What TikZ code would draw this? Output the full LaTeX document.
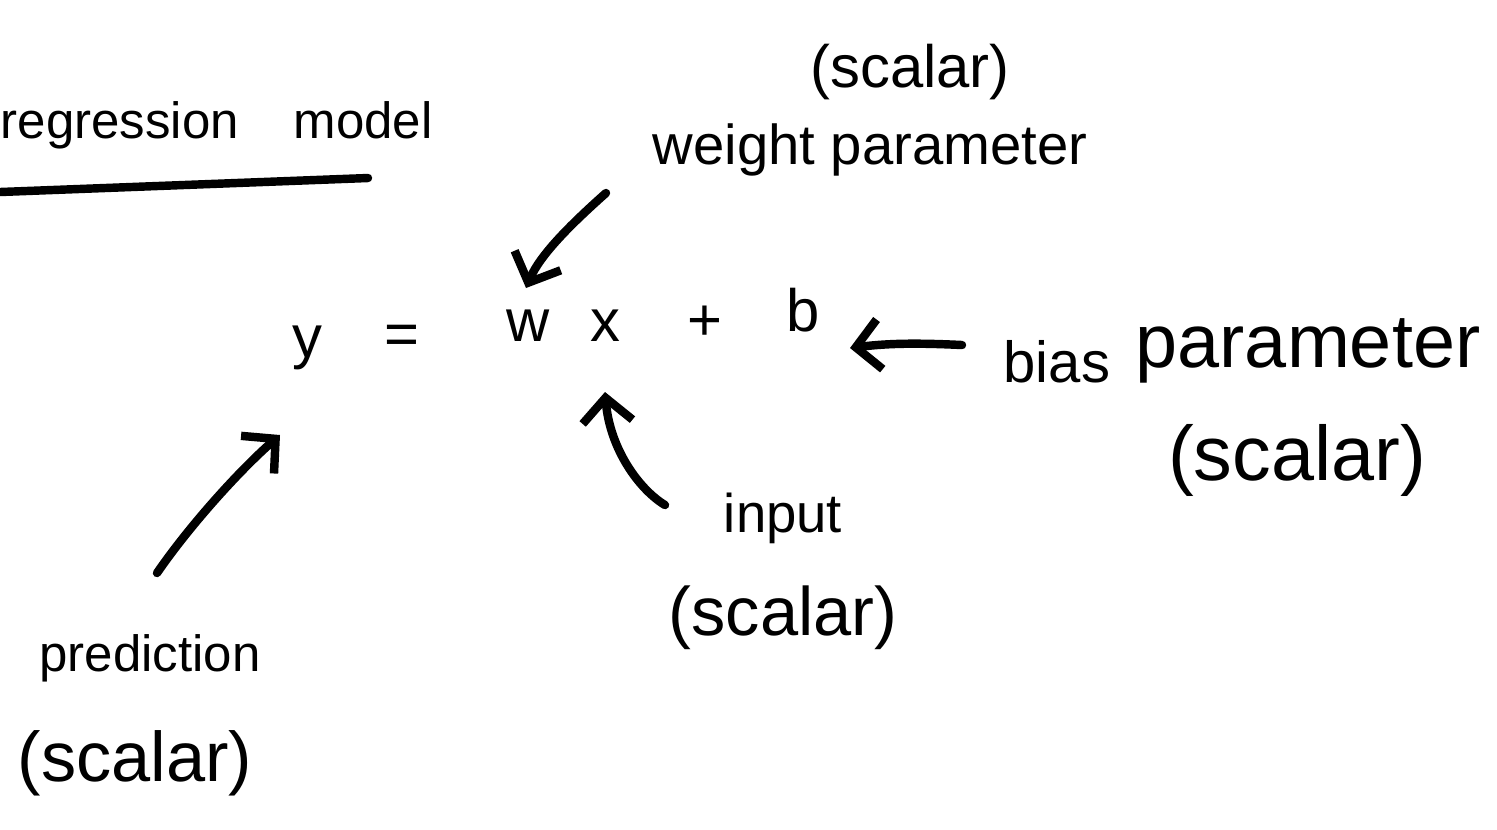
\documentclass[tikz,border=0pt]{standalone}
\usepackage{fontspec}
\setmainfont{Liberation Sans}
\usetikzlibrary{arrows.meta}
\tikzset{
  lbl/.style={inner sep=0pt, font=\fontsize{17}{20}\selectfont},
  eq/.style={inner sep=0pt, font=\fontsize{17}{20}\selectfont},
  pen/.style={line width=2.4pt, line cap=round, line join=round},
  hand/.style={pen, -{Straight Barb[length=2.4mm, width=5mm, line width=2.4pt]}}
}
\begin{document}
\begin{tikzpicture}[x=0.01cm, y=-0.01cm]
\useasboundingbox (0,0) rectangle (1497,829);
% title
\node[lbl, font=\fontsize{14.5}{17}\selectfont, anchor=base west] (title) at (0,138) {regression\hspace{0.55cm}model};
\coordinate (ulA) at (0,192);
\coordinate (ulB) at (368,178);
\draw[pen] (ulA) -- (ulB);
% equation
\node[eq, anchor=base] (y) at (307,357) {y};
\node[eq] (eqs) at (402,340) {=};
\node[eq, anchor=base] (w) at (528,341) {w};
\node[eq, anchor=base] (x) at (605,341) {x};
\node[eq] (plus) at (705,323) {+};
\node[eq, anchor=base] (b) at (803,331) {b};
% weight
\node[lbl] (wsc) at (910,72) {(scalar)};
\node[lbl, font=\fontsize{16}{19}\selectfont] (wp) at (870,150) {weight parameter};
\coordinate (wtail) at (606,193);
\coordinate (wtip) at (526,288);
\draw[hand] (wtail) .. controls (570,225) and (540,255) .. (wtip);
% bias
\node[lbl, font=\fontsize{16.5}{19}\selectfont, anchor=base west] (bias) at (1003,382) {bias};
\node[lbl, font=\fontsize{21.5}{25}\selectfont, anchor=base west] (bpar) at (1135,367) {parameter};
\node[lbl, font=\fontsize{22}{26}\selectfont] (bsc) at (1297,460) {(scalar)};
\coordinate (btail) at (962,345);
\coordinate (btip) at (850,348);
\draw[hand] (btail) .. controls (920,343) and (890,343) .. (btip);
% input
\node[lbl, font=\fontsize{15.5}{18}\selectfont] (inp) at (783,518) {input};
\node[lbl, font=\fontsize{19.5}{23}\selectfont] (isc) at (783,618) {(scalar)};
\coordinate (itail) at (665,505);
\coordinate (itip) at (605,392);
\draw[hand] (itail) .. controls (640,490) and (610,450) .. (itip);
% prediction
\node[lbl, font=\fontsize{14.5}{17}\selectfont] (pred) at (150,658) {prediction};
\node[lbl, font=\fontsize{20}{24}\selectfont] (psc) at (135,763) {(scalar)};
\coordinate (ptail) at (157,573);
\coordinate (ptip) at (280,435);
\draw[hand] (ptail) .. controls (190,525) and (240,470) .. (ptip);
\end{tikzpicture}
\end{document}
